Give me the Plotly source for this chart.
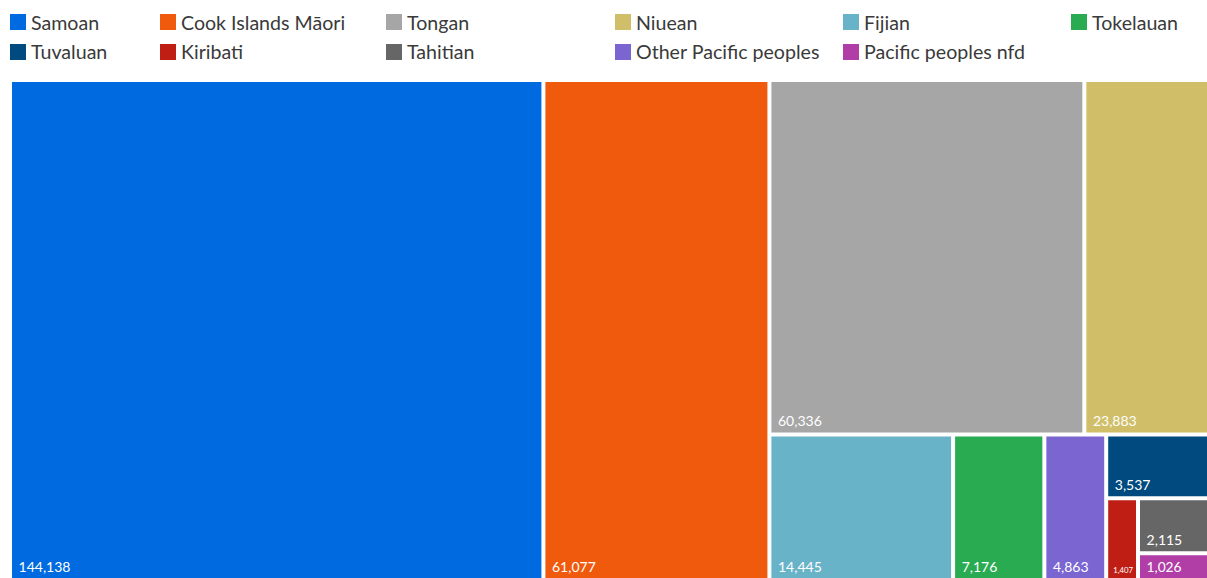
import plotly.graph_objects as go

groups = ["Samoan", "Cook Islands Māori", "Tongan", "Niuean", "Fijian", "Tokelauan",
          "Tuvaluan", "Kiribati", "Tahitian", "Other Pacific peoples", "Pacific peoples nfd"]
counts = [144138, 61077, 60336, 23883, 14445, 7176, 3537, 1407, 2115, 4863, 1026]
colors = ["#006be0", "#f05a0c", "#a6a6a6", "#d0be68", "#68b3c8", "#29ab52",
          "#004a80", "#be1e14", "#666666", "#7b66d1", "#b13da6"]

# invisible grouping boxes so the slice/dice tiling gives the same arrangement
boxes = ["root", "rest", "top", "bottom", "cluster", "small", "col"]
box_parents = ["", "root", "rest", "rest", "bottom", "cluster", "small"]
group_parents = ["root", "root", "top", "top", "bottom", "bottom",
                 "cluster", "small", "col", "bottom", "col"]
# drawing order of tiles inside each box
order = ["Samoan", "Cook Islands Māori", "rest", "top", "Tongan", "Niuean", "bottom",
         "Fijian", "Tokelauan", "Other Pacific peoples", "cluster", "Tuvaluan", "small",
         "Kiribati", "col", "Tahitian", "Pacific peoples nfd"]

FONT = dict(family="Lato, sans-serif", color="#3a3a3a")
W, H = 1207, 578
ML, MT = 12, 82
PW, PH = W - ML, H - MT

ids, labels, parents, values, tile_colors, texts = [], [], [], [], [], []
ids.append("root"); labels.append(""); parents.append(""); values.append(0)
tile_colors.append("white"); texts.append("")
for key in order:
    ids.append(key)
    if key in boxes:
        labels.append(""); parents.append(box_parents[boxes.index(key)]); values.append(0)
        tile_colors.append("white"); texts.append("")
    else:
        i = groups.index(key)
        labels.append(key); parents.append(group_parents[i]); values.append(counts[i])
        tile_colors.append(colors[i]); texts.append("\u00a0%{value:,}")

fig = go.Figure(go.Treemap(
    ids=ids,
    labels=labels,
    parents=parents,
    values=values,
    sort=False,
    marker=dict(colors=tile_colors, line=dict(width=0), pad=dict(t=0, l=0, r=0, b=0)),
    tiling=dict(pad=4, packing="slice-dice"),
    pathbar=dict(visible=False),
    texttemplate=texts,
    textposition="bottom left",
    textfont=dict(family="Lato, sans-serif", size=14, color="white"),
    hovertemplate="%{label}: %{value:,}<extra></extra>",
))

# legend drawn as swatches + labels in a 6-column grid
col_x = [10, 160, 386, 615, 843, 1071]
row_y = [22, 52]
for i, (name, c) in enumerate(zip(groups, colors)):
    col, row = i % 6, i // 6
    px_x, px_y = col_x[col], row_y[row]
    fig.add_shape(type="rect", xref="paper", yref="paper",
                  x0=(px_x - ML) / PW, x1=(px_x + 16 - ML) / PW,
                  y0=(H - (px_y + 8)) / PH, y1=(H - (px_y - 8)) / PH,
                  fillcolor=c, line=dict(width=0))
    fig.add_annotation(text=name, xref="paper", yref="paper",
                       x=(px_x + 19 - ML) / PW, y=(H - px_y) / PH,
                       xanchor="left", yanchor="middle", showarrow=False,
                       font=dict(size=19.6, **FONT))

fig.update_layout(
    width=W, height=H,
    margin=dict(t=MT, b=0, l=ML, r=0),
    font=FONT,
    paper_bgcolor="white",
    plot_bgcolor="white",
)
fig.write_html("out.html", config={"displayModeBar": False},
               post_script="document.body.style.margin='0';document.body.style.overflow='hidden';")
